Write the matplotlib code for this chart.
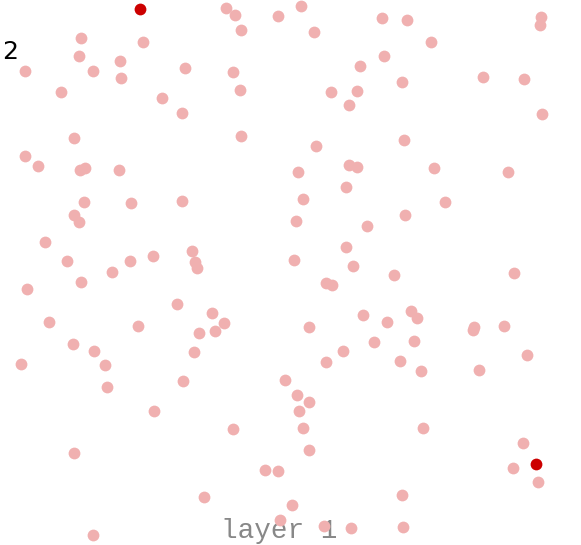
import matplotlib.pyplot as plt

# point positions (no visible axes, so plain units)
x_vals = [
    226, 235, 278, 301, 382, 407, 541, 540, 241, 314,
    81, 143, 431, 79, 120, 384, 25, 93, 185, 233,
    360, 121, 483, 524, 402, 61, 240, 331, 357, 162,
    349, 182, 542, 74, 241, 404, 316, 25, 38, 80,
    85, 119, 349, 357, 298, 434, 508, 346, 84, 131,
    182, 303, 445, 74, 79, 405, 296, 367, 45, 346,
    192, 67, 153, 130, 195, 197, 294, 353, 112, 394,
    514, 81, 326, 332, 27, 177, 212, 363, 411, 417,
    49, 138, 224, 199, 215, 309, 387, 474, 473, 504,
    73, 94, 194, 374, 414, 343, 527, 21, 105, 326,
    400, 421, 479, 107, 183, 285, 297, 309, 299, 154,
    303, 233, 423, 74, 309, 523, 265, 278, 513, 538,
    204, 402, 292, 280, 324, 351, 403, 93,
]
y_vals = [
    8, 15, 16, 6, 18, 20, 17, 25, 30, 32,
    38, 42, 42, 56, 61, 56, 71, 71, 68, 72,
    66, 78, 77, 79, 82, 92, 90, 92, 91, 98,
    105, 113, 114, 138, 136, 140, 146, 156, 166, 170,
    168, 170, 165, 167, 172, 168, 172, 187, 202, 203,
    201, 199, 202, 215, 222, 215, 221, 226, 242, 247,
    251, 261, 256, 261, 262, 268, 260, 266, 272, 275,
    273, 282, 283, 285, 289, 304, 313, 315, 311, 318,
    322, 326, 323, 333, 331, 327, 322, 327, 330, 326,
    344, 351, 352, 342, 341, 351, 355, 364, 365, 362,
    361, 371, 370, 387, 381, 380, 395, 402, 411, 411,
    428, 429, 428, 453, 450, 443, 470, 471, 468, 482,
    497, 495, 505, 520, 526, 528, 527, 535,
]

# the two highlighted points
hi_x = [140, 536]
hi_y = [9, 464]

corner_label = "2"
layer_label = "layer 1"


def main():
    fig = plt.figure(figsize=(5.81, 5.45), dpi=100)
    ax = fig.add_axes([0, 0, 1, 1])
    ax.set_xlim(0, 581)
    ax.set_ylim(545, 0)
    ax.axis("off")

    ax.text(279, 538, layer_label, ha="center", va="baseline",
            fontsize=20, color="#888888", family="Liberation Mono", zorder=1)
    ax.text(2, 59, corner_label, ha="left", va="baseline",
            fontsize=18, color="black", family="DejaVu Sans", zorder=1)

    ax.scatter(x_vals, y_vals, s=72, color="#f0b0b0", linewidths=0, zorder=2)
    ax.scatter(hi_x, hi_y, s=72, color="#cc0000", linewidths=0, zorder=3)

    fig.savefig("out.png", dpi=100)


if __name__ == "__main__":
    main()
